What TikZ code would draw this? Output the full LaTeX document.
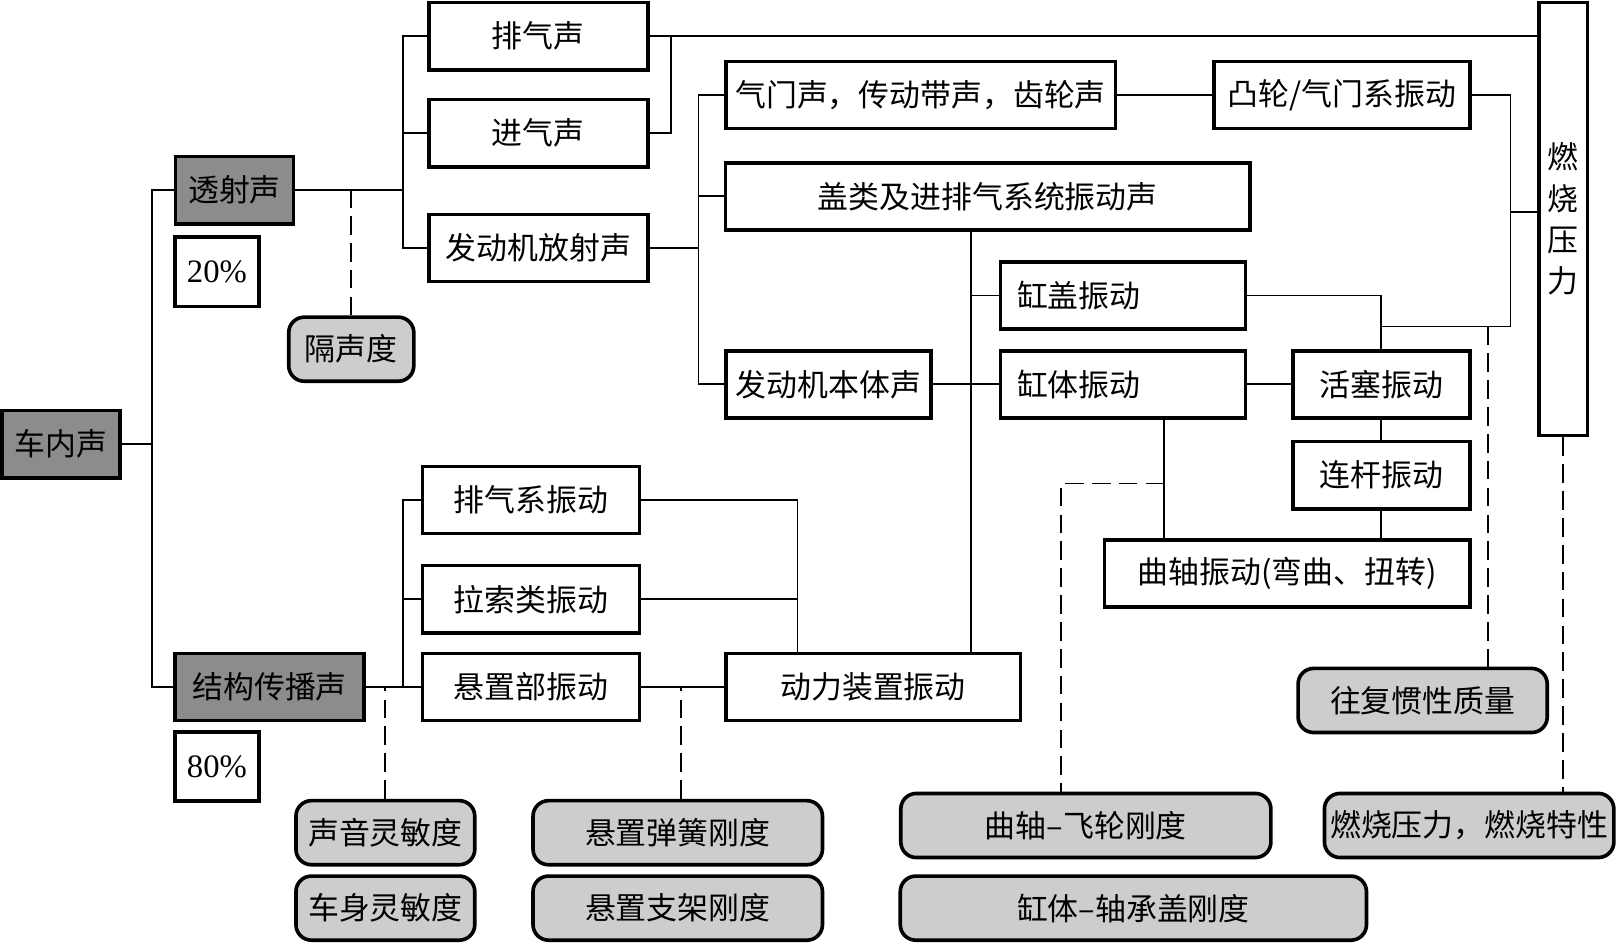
\documentclass[tikz,border=0pt]{standalone}
\usepackage{fontspec}
\setmainfont{Liberation Serif}
\newfontfamily\cjk{Noto Sans CJK SC}
\usetikzlibrary{calc}
\definecolor{boxdark}{RGB}{140,140,140}
\definecolor{boxlight}{RGB}{205,205,205}
\tikzset{
    box/.style={draw, line width=1pt, inner sep=0pt, minimum height=0.65cm,
        font=\cjk\fontsize{8.5}{10}\selectfont},
    darkbox/.style={box, fill=boxdark},
    numbox/.style={box, minimum height=0.67cm, minimum width=0.81cm,
        font=\fontsize{9}{10}\selectfont},
    parambox/.style={box, fill=boxlight, rounded corners=0.15cm, minimum height=0.62cm},
    link/.style={line width=0.5pt},
    dashlink/.style={link, dash pattern=on 0.18cm off 0.08cm}
}
\begin{document}
\begin{tikzpicture}[x=0.01cm, y=-0.01cm]
        \useasboundingbox (0,0) rectangle (1568,913);

        % Left column: total noise and its two paths
        \node[darkbox, minimum width=1.14cm] (chenei)  at (59,430)  {车内声};
        \node[darkbox, minimum width=1.14cm] (toushe)  at (227,184) {透射声};
        \node[numbox] (p20) at (210,263) {20\%};
        \node[parambox, minimum width=1.21cm] (gesheng) at (340,338) {隔声度};
        \node[darkbox, minimum width=1.83cm] (jiegou)  at (261,665) {结构传播声};
        \node[numbox] (p80) at (210,742) {80\%};

        % Air-borne branch
        \node[box, minimum width=2.12cm] (paiqi) at (521,35)  {排气声};
        \node[box, minimum width=2.12cm] (jinqi) at (521,129) {进气声};
        \node[box, minimum width=2.12cm] (fashe) at (521,240) {发动机放射声};
        \node[box, minimum width=3.77cm] (qimen)  at (891,92)  {气门声，传动带声，齿轮声};
        \node[box, minimum width=2.48cm] (tulun)  at (1299,92) {凸轮/气门系振动};
        \node[box, minimum width=5.07cm] (gailei) at (956,190) {盖类及进排气系统振动声};
        \node[box, text width=2.05cm, inner xsep=0.16cm, align=left] (ganggai) at (1087,286) {缸盖振动};
        \node[box, minimum width=1.98cm] (benti)  at (802,372) {发动机本体声};
        \node[box, text width=2.05cm, inner xsep=0.16cm, align=left] (gangti) at (1087,372) {缸体振动};
        \node[box, minimum width=1.71cm] (huosai)  at (1337,372) {活塞振动};
        \node[box, minimum width=1.71cm] (liangan) at (1337,460) {连杆振动};
        \node[box, minimum width=3.54cm] (quzhou)  at (1246,555) {曲轴振动(弯曲、扭转)};
        \node[box, minimum width=0.47cm, minimum height=4.19cm, align=center,
            font=\cjk\fontsize{8.5}{11.4}\selectfont] (ranshao) at (1513,212) {燃\\烧\\压\\力};

        % Structure-borne branch
        \node[box, minimum width=2.10cm] (paiqixi) at (514,484) {排气系振动};
        \node[box, minimum width=2.10cm] (lasuo)   at (514,580) {拉索类振动};
        \node[box, minimum width=2.10cm] (xuanzhi) at (514,665) {悬置部振动};
        \node[box, minimum width=2.85cm] (dongli)  at (845,665) {动力装置振动};

        % Design parameters
        \node[parambox, minimum width=2.41cm] (wangfu)    at (1377,678) {往复惯性质量};
        \node[parambox, minimum width=1.73cm] (shengyin)  at (373,806)  {声音灵敏度};
        \node[parambox, minimum width=1.73cm] (cheshen)   at (373,879)  {车身灵敏度};
        \node[parambox, minimum width=2.80cm] (tanhuang)  at (656,806)  {悬置弹簧刚度};
        \node[parambox, minimum width=2.80cm] (zhijia)    at (656,879)  {悬置支架刚度};
        \node[parambox, minimum width=3.58cm] (feilun)    at (1051,799) {曲轴–飞轮刚度};
        \node[parambox, minimum width=4.51cm] (zhoucheng) at (1097,879) {缸体–轴承盖刚度};
        \node[parambox, minimum width=2.80cm] (texing)    at (1422,799) {燃烧压力，燃烧特性};

        % Bus points
        \coordinate (b1)  at (147,430);
        \coordinate (b2)  at (390,184);
        \coordinate (b3)  at ([xshift=0.21cm]paiqi.east);
        \coordinate (b4)  at (676,240);
        \coordinate (b5)  at (1462,316);
        \coordinate (b6)  at (1462,205);
        \coordinate (b7)  at ([xshift=-0.16cm]gailei.south);
        \coordinate (b8)  at ([xshift=0.40cm]gangti.south);
        \coordinate (b9)  at (1127,468);
        \coordinate (b10) at (1440,316);
        \coordinate (b11) at (390,665);
        \coordinate (b12) at ([xshift=-0.73cm]dongli.north);

        % Connectors
        \draw[link] (chenei.east) -- (b1);
        \draw[link] (toushe.west) -| (b1) |- (jiegou.west);
        \draw[link] (toushe.east) -- (b2);
        \draw[link] (paiqi.west) -| (b2) |- (fashe.west);
        \draw[link] (jinqi.west) -- (jinqi.west -| b2);
        \draw[dashlink] (gesheng.north) -- (gesheng.north |- toushe.east);
        \draw[link] (paiqi.east) -- (paiqi.east -| ranshao.west);
        \draw[link] (jinqi.east) -| (b3);
        \draw[link] (fashe.east) -- (b4);
        \draw[link] (qimen.west) -| (b4) |- (benti.west);
        \draw[link] (gailei.west) -- (gailei.west -| b4);
        \draw[link] (qimen.east) -- (tulun.west);
        \draw[link] (tulun.east) -| (b5) -- (b5 -| huosai.north);
        \draw[link] (b6) -- (b6 -| ranshao.west);
        \draw[link] (ganggai.east) -| (huosai.north);
        \draw[link] (b7) -- (b7 |- dongli.north);
        \draw[link] (ganggai.west) -- (ganggai.west -| b7);
        \draw[link] (benti.east) -- (gangti.west);
        \draw[link] (gangti.east) -- (huosai.west);
        \draw[link] (huosai.south) -- (liangan.north);
        \draw[link] (liangan.south) -- (liangan.south |- quzhou.north);
        \draw[link] (b8) -- (b8 |- quzhou.north);
        \draw[dashlink] (b9) -| ([xshift=-0.24cm]feilun.north);
        \draw[dashlink] (b10) -- (b10 |- wangfu.north);
        \draw[dashlink] (ranshao.south) -- (ranshao.south |- texing.north);

        \draw[link] (jiegou.east) -- (xuanzhi.west);
        \draw[link] (paiqixi.west) -| (b11);
        \draw[link] (lasuo.west) -- (lasuo.west -| b11);
        \draw[dashlink] (shengyin.north) -- (shengyin.north |- jiegou.east);
        \draw[link] (paiqixi.east) -| (b12);
        \draw[link] (lasuo.east) -- (lasuo.east -| b12);
        \draw[link] (xuanzhi.east) -- (dongli.west);
        \draw[dashlink] ([xshift=0.03cm]tanhuang.north) -- ([xshift=0.03cm]tanhuang.north |- xuanzhi.east);
    \end{tikzpicture}
\end{document}
